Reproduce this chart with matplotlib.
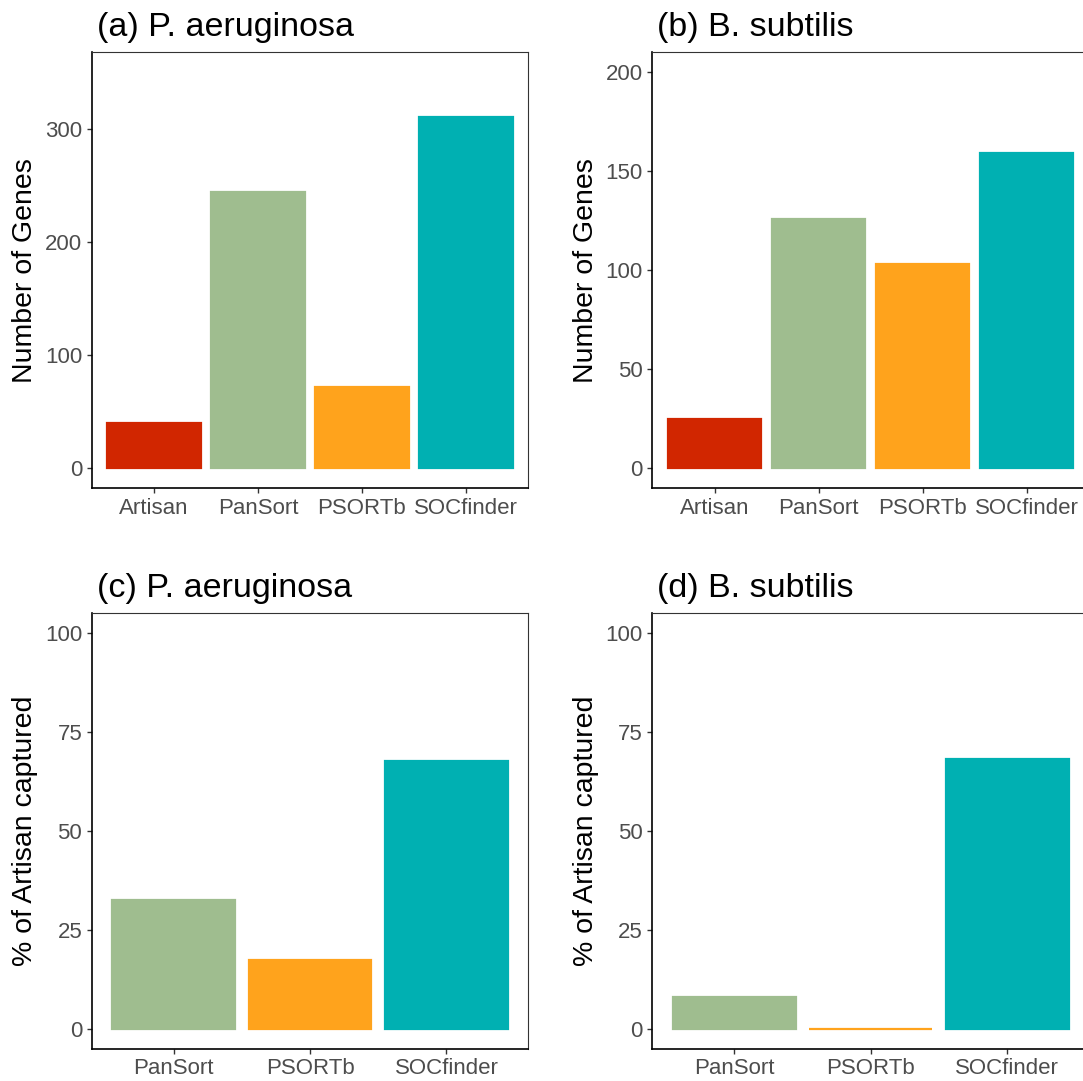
import matplotlib
matplotlib.use("Agg")
import matplotlib.pyplot as plt

plt.rcParams['font.family'] = ['Liberation Sans', 'DejaVu Sans']

# Data
tools_all = ["Artisan", "PanSort", "PSORTb", "SOCfinder"]
tools_cmp = ["PanSort", "PSORTb", "SOCfinder"]
pa_genes = [40, 244, 72, 310]
bs_genes = [25, 126, 103, 159]
pa_pct = [32.5, 17.5, 67.5]
bs_pct = [8, 0, 68]

colors = {"Artisan": "#D12600", "PanSort": "#9FBD8F",
          "PSORTb": "#FFA31C", "SOCfinder": "#00B0B2"}

W, H = 1083, 1081
fig = plt.figure(figsize=(W / 100, H / 100), dpi=100)

# panel boxes in pixels: left, top, right, bottom
boxes = {
    "a": (91.7, 52.3, 528.3, 488.3),
    "b": (652.3, 52.3, 1089.0, 488.3),
    "c": (91.7, 612.7, 528.3, 1048.7),
    "d": (652.3, 612.7, 1089.0, 1048.7),
}

panels = [
    ("a", "(a) P. aeruginosa", tools_all, pa_genes, (0, 350), [0, 100, 200, 300], "Number of Genes"),
    ("b", "(b) B. subtilis", tools_all, bs_genes, (0, 200), [0, 50, 100, 150, 200], "Number of Genes"),
    ("c", "(c) P. aeruginosa", tools_cmp, pa_pct, (0, 100), [0, 25, 50, 75, 100], "% of Artisan captured"),
    ("d", "(d) B. subtilis", tools_cmp, bs_pct, (0, 100), [0, 25, 50, 75, 100], "% of Artisan captured"),
]

for key, title, cats, vals, lim, ticks, ylabel in panels:
    l, t, r, b = boxes[key]
    ax = fig.add_axes([l / W, 1 - b / H, (r - l) / W, (b - t) / H])
    x = list(range(len(cats)))
    cols = [colors[c] for c in cats]
    ax.bar(x, vals, width=0.9, color=cols, edgecolor=cols, linewidth=1.6)
    ax.set_xlim(-0.6, len(cats) - 0.4)
    span = lim[1] - lim[0]
    ax.set_ylim(lim[0] - 0.05 * span, lim[1] + 0.05 * span)
    ax.set_yticks(ticks)
    ax.set_xticks(x)
    ax.set_xticklabels(cats)
    ax.tick_params(axis="both", labelsize=16, labelcolor="#4D4D4D",
                   color="#333333", length=3.6, width=1.0, pad=3.2)
    for side in ["left", "bottom"]:
        ax.spines[side].set_linewidth(1.2)
        ax.spines[side].set_color("black")
    for side in ["top", "right"]:
        ax.spines[side].set_linewidth(0.8)
        ax.spines[side].set_color("#333333")
    ax.set_ylabel(ylabel, fontsize=20.5, color="black")
    ax.yaxis.set_label_coords(-0.122, 0.5)
    ax.set_title(title, loc="left", fontsize=24.5, pad=11.5, color="black", x=0.011)

plt.savefig("out.png", dpi=100)
